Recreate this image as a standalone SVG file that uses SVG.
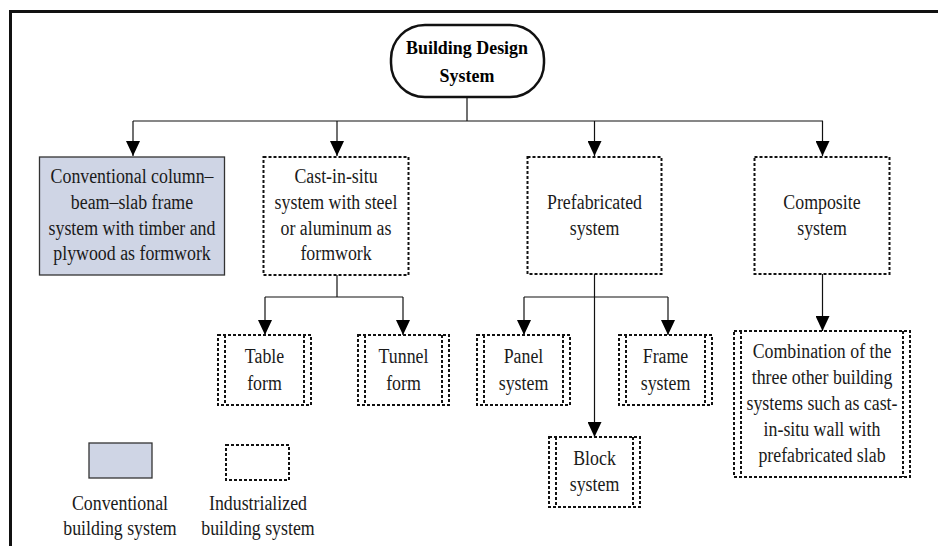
<svg xmlns="http://www.w3.org/2000/svg" width="938" height="546" viewBox="0 0 938 546">
<defs>
<marker id="arr" markerUnits="userSpaceOnUse" markerWidth="15" markerHeight="14" refX="15" refY="7" viewBox="0 0 15 14" orient="auto">
<path d="M0,0 L15,7 L0,14 Z" fill="#000"/>
</marker>
<style>
.t{font-family:"Liberation Serif","Times New Roman",serif;font-size:20.5px;fill:#1a1a1a;text-anchor:middle;transform-box:fill-box;transform-origin:center;transform:scaleX(0.87)}
.b{font-weight:bold;fill:#000;font-size:19.5px;transform:scaleX(0.92)}
.c{fill:none;stroke:#111;stroke-width:1.2}
.a{fill:none;stroke:#111;stroke-width:1.2}
.dot{fill:#fff;stroke:#111;stroke-width:2;stroke-dasharray:3 2}
.dl{fill:none;stroke:#111;stroke-width:2;stroke-dasharray:3 2}
.conv{fill:#cfd5e5;stroke:#333;stroke-width:1.3}
</style>
</defs>
<rect width="938" height="546" fill="#fff"/>
<path d="M10.5,546 V11.5 H938" fill="none" stroke="#111" stroke-width="3"/>

<g id="connectors">
<path class="c" d="M467,97 V121"/>
<path class="c" d="M133,121 H823"/>
<path class="a" d="M133,121 V156" marker-end="url(#arr)"/>
<path class="a" d="M337,121 V156" marker-end="url(#arr)"/>
<path class="a" d="M594.5,121 V156" marker-end="url(#arr)"/>
<path class="a" d="M822.5,121 V156" marker-end="url(#arr)"/>
<path class="c" d="M337,275 V297 M265,297 H403"/>
<path class="a" d="M265,297 V335" marker-end="url(#arr)"/>
<path class="a" d="M403,297 V335" marker-end="url(#arr)"/>
<path class="c" d="M524,297 H668"/>
<path class="a" d="M524,297 V335" marker-end="url(#arr)"/>
<path class="a" d="M668,297 V335" marker-end="url(#arr)"/>
<path class="a" d="M594.5,274 V437" marker-end="url(#arr)"/>
<path class="a" d="M822.5,274 V331" marker-end="url(#arr)"/>
</g>

<g id="root">
<rect x="391" y="25" width="153" height="72" rx="34" ry="34" fill="#fff" stroke="#111" stroke-width="2.5"/>
<text class="t b" x="467" y="54">Building Design</text>
<text class="t b" x="467" y="82">System</text>
</g>

<g id="conventional">
<rect class="conv" x="39.5" y="157" width="185" height="118"/>
<text class="t" x="132" y="183">Conventional column–</text>
<text class="t" x="132" y="209">beam–slab frame</text>
<text class="t" x="132" y="235">system with timber and</text>
<text class="t" x="132" y="260">plywood as formwork</text>
</g>

<g id="castinsitu">
<rect class="dot" x="263.5" y="157" width="145" height="118"/>
<text class="t" x="336" y="183">Cast-in-situ</text>
<text class="t" x="336" y="209">system with steel</text>
<text class="t" x="336" y="235">or aluminum as</text>
<text class="t" x="336" y="260">formwork</text>
</g>

<g id="prefabricated">
<rect class="dot" x="527.5" y="157" width="134" height="117"/>
<text class="t" x="594.5" y="209">Prefabricated</text>
<text class="t" x="594.5" y="235">system</text>
</g>

<g id="composite">
<rect class="dot" x="754.5" y="157" width="135" height="117"/>
<text class="t" x="822" y="209">Composite</text>
<text class="t" x="822" y="235">system</text>
</g>

<g id="tableform">
<rect class="dot" x="218" y="335" width="93" height="70"/>
<path class="dl" d="M225,335 V405 M304,335 V405"/>
<text class="t" x="264.5" y="363">Table</text>
<text class="t" x="264.5" y="390">form</text>
</g>

<g id="tunnelform">
<rect class="dot" x="358" y="335" width="91" height="70"/>
<path class="dl" d="M365,335 V405 M442,335 V405"/>
<text class="t" x="403.5" y="363">Tunnel</text>
<text class="t" x="403.5" y="390">form</text>
</g>

<g id="panel">
<rect class="dot" x="477" y="335" width="93" height="70"/>
<path class="dl" d="M484,335 V405 M563,335 V405"/>
<text class="t" x="523.5" y="363">Panel</text>
<text class="t" x="523.5" y="390">system</text>
</g>

<g id="frame">
<rect class="dot" x="619" y="335" width="93" height="70"/>
<path class="dl" d="M626,335 V405 M705,335 V405"/>
<text class="t" x="665.5" y="363">Frame</text>
<text class="t" x="665.5" y="390">system</text>
</g>

<g id="block">
<rect class="dot" x="549" y="437" width="91" height="70"/>
<path class="dl" d="M556,437 V507 M633,437 V507"/>
<text class="t" x="594.5" y="465">Block</text>
<text class="t" x="594.5" y="491">system</text>
</g>

<g id="combination">
<rect class="dot" x="734" y="331" width="176" height="146"/>
<path class="dl" d="M741,331 V477 M903,331 V477"/>
<text class="t" x="822" y="358">Combination of the</text>
<text class="t" x="822" y="384">three other building</text>
<text class="t" x="822" y="410">systems such as cast-</text>
<text class="t" x="822" y="436">in-situ wall with</text>
<text class="t" x="822" y="462">prefabricated slab</text>
</g>

<g id="legend">
<rect class="conv" x="89" y="443" width="63" height="35"/>
<rect class="dot" x="226" y="445" width="63" height="35"/>
<text class="t" x="120" y="510">Conventional</text>
<text class="t" x="120" y="535">building system</text>
<text class="t" x="258" y="510">Industrialized</text>
<text class="t" x="258" y="535">building system</text>
</g>
</svg>
